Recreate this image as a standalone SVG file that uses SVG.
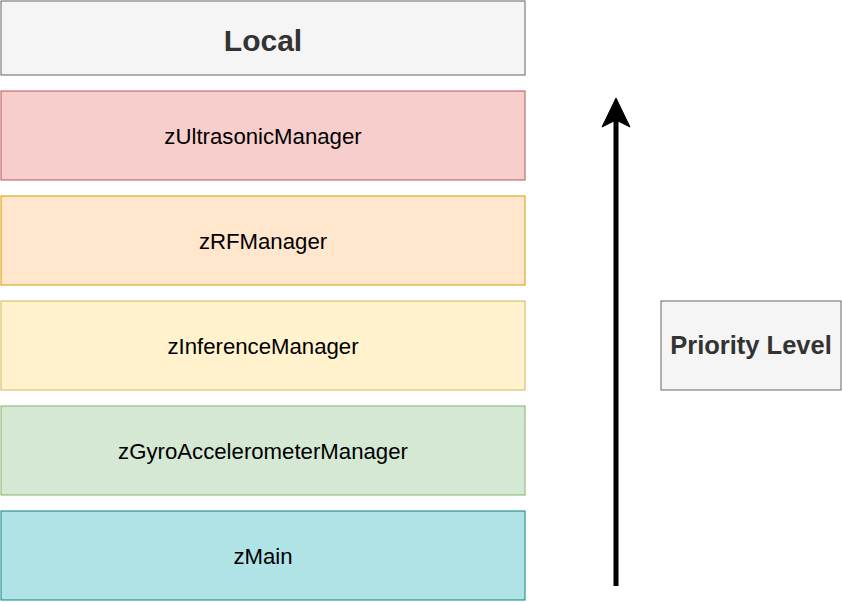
<svg xmlns="http://www.w3.org/2000/svg" width="842" height="602" viewBox="0 0 842 602">
<style>
text{font-family:"Liberation Sans",Arial,Helvetica,sans-serif;text-anchor:middle}
.lbl{font-size:22.2px;fill:#000}
.bold{font-weight:bold;fill:#333333}
</style>
<rect width="842" height="602" fill="#ffffff"/>
<g id="local"><rect x="1" y="1" width="524" height="74" fill="#f5f5f5" stroke="#666666"/><text class="bold" x="263" y="51" font-size="30">Local</text></g>
<g id="zUltrasonicManager"><rect x="1" y="91" width="524" height="89" fill="#f8cecc" stroke="#b85450"/><text class="lbl" x="263" y="144">zUltrasonicManager</text></g>
<g id="zRFManager"><rect x="1" y="196" width="524" height="89" fill="#ffe6cc" stroke="#d79b00"/><text class="lbl" x="263" y="249">zRFManager</text></g>
<g id="zInferenceManager"><rect x="1" y="301" width="524" height="89" fill="#fff2cc" stroke="#d6b656"/><text class="lbl" x="263" y="354">zInferenceManager</text></g>
<g id="zGyroAccelerometerManager"><rect x="1" y="406" width="524" height="89" fill="#d5e8d4" stroke="#82b366"/><text class="lbl" x="263" y="459">zGyroAccelerometerManager</text></g>
<g id="zMain"><rect x="1" y="511" width="524" height="89" fill="#b0e3e6" stroke="#0e8088"/><text class="lbl" x="263" y="564">zMain</text></g>
<g id="priority"><rect x="661" y="301" width="180" height="89" fill="#f5f5f5" stroke="#666666"/><text class="bold" x="751" y="354" font-size="25.5">Priority Level</text></g>
<g id="connectors">
<line x1="616" y1="586" x2="616" y2="118" stroke="#000" stroke-width="5"/>
<path d="M616,98 L630,127 L616,120 L602,127 Z" fill="#000" stroke="#000" stroke-width="1"/>
</g>
</svg>
